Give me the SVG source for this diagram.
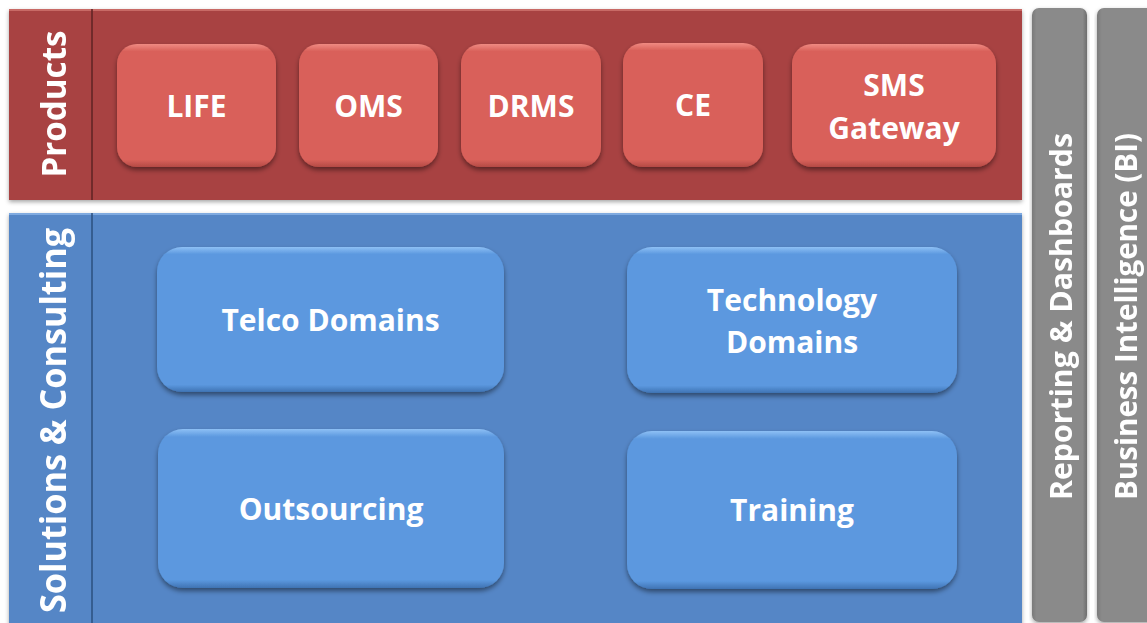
<svg xmlns="http://www.w3.org/2000/svg" width="1147" height="623" viewBox="0 0 1147 623">
<style>
.t{font-family:"Open Sans","Liberation Sans",sans-serif;font-weight:bold;fill:#ffffff;}
.bx{font-size:30px;text-anchor:middle;}
.side{font-size:34px;}
</style>
<defs>
<filter id="sh" x="-10%" y="-10%" width="120%" height="130%">
<feDropShadow dx="0" dy="3" stdDeviation="2.5" flood-color="#000" flood-opacity="0.45"/>
</filter>
<filter id="psh" x="-5%" y="-5%" width="110%" height="115%">
<feDropShadow dx="0" dy="2" stdDeviation="2" flood-color="#000" flood-opacity="0.35"/>
</filter>
<linearGradient id="bevR" x1="0" y1="0" x2="0" y2="1">
<stop offset="0" stop-color="#f08a82"/>
<stop offset="0.06" stop-color="#d9615a"/>
<stop offset="0.94" stop-color="#d9615a"/>
<stop offset="1" stop-color="#b44a45"/>
</linearGradient>
<linearGradient id="bevB" x1="0" y1="0" x2="0" y2="1">
<stop offset="0" stop-color="#8ec0f5"/>
<stop offset="0.05" stop-color="#5b98df"/>
<stop offset="0.95" stop-color="#5b98df"/>
<stop offset="1" stop-color="#3f73b3"/>
</linearGradient>
<linearGradient id="gray" x1="0" y1="0" x2="1" y2="0">
<stop offset="0" stop-color="#7a7a7a"/>
<stop offset="0.08" stop-color="#8a8a8a"/>
<stop offset="0.92" stop-color="#8a8a8a"/>
<stop offset="1" stop-color="#6e6e6e"/>
</linearGradient>
</defs>
<rect width="1147" height="623" fill="#ffffff"/>

<g id="products-panel" filter="url(#psh)">
<rect x="9" y="9" width="1013" height="191" fill="#a84343"/>
<rect x="9" y="9" width="1013" height="2" fill="#c86a66"/>
<line x1="92" y1="9" x2="92" y2="200" stroke="#5e2020" stroke-width="1.5"/>
<text class="t side" transform="translate(66,104) rotate(-90)" text-anchor="middle" textLength="147" lengthAdjust="spacingAndGlyphs">Products</text>
</g>

<g id="solutions-panel" filter="url(#psh)">
<rect x="9" y="213" width="1013" height="420" fill="#5486c6"/>
<rect x="9" y="213" width="1013" height="2" fill="#7faae0"/>
<line x1="92" y1="213" x2="92" y2="623" stroke="#2c4f7e" stroke-width="1.5"/>
<text class="t" font-size="35" transform="translate(66,420.5) rotate(-90)" text-anchor="middle" textLength="385" lengthAdjust="spacingAndGlyphs">Solutions &amp; Consulting</text>
</g>

<g id="reporting" filter="url(#psh)">
<rect x="1032" y="8" width="55" height="614" rx="7" fill="url(#gray)"/>
<text class="t" font-size="31" transform="translate(1072,500) rotate(-90)" textLength="367" lengthAdjust="spacingAndGlyphs">Reporting &amp; Dashboards</text>
</g>

<g id="bi" filter="url(#psh)">
<rect x="1097" y="8" width="60" height="614" rx="7" fill="url(#gray)"/>
<text class="t" font-size="31" transform="translate(1137,500) rotate(-90)" textLength="367" lengthAdjust="spacingAndGlyphs">Business Intelligence (BI)</text>
</g>

<g id="life">
<rect x="117" y="44" width="159" height="123" rx="20" fill="url(#bevR)" filter="url(#sh)"/>
<text class="t bx" x="196.5" y="117">LIFE</text>
</g>
<g id="oms">
<rect x="299" y="44" width="139" height="123" rx="20" fill="url(#bevR)" filter="url(#sh)"/>
<text class="t bx" x="368.5" y="117">OMS</text>
</g>
<g id="drms">
<rect x="461" y="44" width="140" height="123" rx="20" fill="url(#bevR)" filter="url(#sh)"/>
<text class="t bx" x="531" y="117">DRMS</text>
</g>
<g id="ce">
<rect x="623" y="43" width="140" height="124" rx="20" fill="url(#bevR)" filter="url(#sh)"/>
<text class="t bx" x="693" y="116">CE</text>
</g>
<g id="sms-gateway">
<rect x="792" y="44" width="204" height="123" rx="20" fill="url(#bevR)" filter="url(#sh)"/>
<text class="t bx" x="894" y="96">SMS</text>
<text class="t bx" x="894" y="139">Gateway</text>
</g>

<g id="telco-domains">
<rect x="157" y="247" width="347" height="145" rx="25" fill="url(#bevB)" filter="url(#sh)"/>
<text class="t bx" x="330.5" y="331">Telco Domains</text>
</g>
<g id="technology-domains">
<rect x="627" y="247" width="330" height="146" rx="25" fill="url(#bevB)" filter="url(#sh)"/>
<text class="t bx" x="792" y="311">Technology</text>
<text class="t bx" x="792" y="353">Domains</text>
</g>
<g id="outsourcing">
<rect x="158" y="429" width="346" height="159" rx="25" fill="url(#bevB)" filter="url(#sh)"/>
<text class="t bx" x="331" y="520">Outsourcing</text>
</g>
<g id="training">
<rect x="627" y="431" width="330" height="158" rx="25" fill="url(#bevB)" filter="url(#sh)"/>
<text class="t bx" x="792" y="521">Training</text>
</g>

<g id="connectors"></g>
</svg>
